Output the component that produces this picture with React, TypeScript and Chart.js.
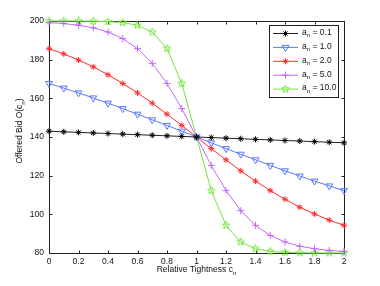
import React, { useEffect, useRef } from 'react';
import { Chart, registerables } from 'chart.js';
Chart.register(...registerables);

const tightness = [0, 0.1, 0.2, 0.3, 0.4, 0.5, 0.6, 0.7, 0.8, 0.9, 1, 1.1, 1.2, 1.3, 1.4, 1.5, 1.6, 1.7, 1.8, 1.9, 2];
const bidA01 = [143.0, 142.7, 142.4, 142.1, 141.8, 141.5, 141.2, 140.9, 140.6, 140.3, 140.0, 139.7, 139.4, 139.1, 138.8, 138.5, 138.2, 137.9, 137.6, 137.3, 137.0];
const bidA1 = [167.7, 165.3, 162.8, 160.2, 157.5, 154.7, 151.8, 148.9, 146.0, 143.0, 140.0, 137.0, 134.0, 131.1, 128.2, 125.3, 122.5, 119.8, 117.2, 114.7, 112.3];
const bidA2 = [185.7, 183.0, 179.8, 176.3, 172.2, 167.7, 162.8, 157.5, 151.8, 146.0, 140.0, 134.0, 128.2, 122.5, 117.2, 112.3, 107.8, 103.7, 100.2, 97.0, 94.3];
const bidA5 = [199.2, 198.7, 197.8, 196.5, 194.3, 190.9, 185.7, 178.1, 167.7, 154.7, 140.0, 125.3, 112.3, 101.9, 94.3, 89.1, 85.7, 83.5, 82.2, 81.3, 80.8];
const bidA10 = [200.0, 200.0, 200.0, 199.9, 199.7, 199.2, 197.8, 194.3, 185.7, 167.7, 140.0, 112.3, 94.3, 85.7, 82.2, 80.8, 80.3, 80.1, 80.0, 80.0, 80.0];
const legendValues = ['0.1', '1.0', '2.0', '5.0', '10.0'];
const xTitle = 'Relative Tightness c';
const yTitle = 'Offered Bid O(c';

const COLORS = ['#222222', '#5a78ff', '#ff2a2a', '#c466ff', '#72e63c'];
const MARKERS = ['star', 'triangleDown', 'star', 'cross', 'pentagram'];
const FONT = '"Liberation Sans", Arial, sans-serif';

function makePentagram(color: string, r: number) {
  const size = Math.ceil(r * 2 + 3);
  const c = document.createElement('canvas');
  c.width = size;
  c.height = size;
  const g = c.getContext('2d')!;
  drawPentagramPath(g, size / 2, size / 2, r);
  g.strokeStyle = color;
  g.lineWidth = 1;
  g.stroke();
  return c;
}

function drawPentagramPath(g: CanvasRenderingContext2D, cx: number, cy: number, r: number) {
  const inner = r * 0.42;
  g.beginPath();
  for (let i = 0; i < 10; i++) {
    const ang = -Math.PI / 2 + (i * Math.PI) / 5;
    const rr = i % 2 === 0 ? r : inner;
    const px = cx + rr * Math.cos(ang);
    const py = cy + rr * Math.sin(ang);
    if (i === 0) g.moveTo(px, py);
    else g.lineTo(px, py);
  }
  g.closePath();
}

function drawMarker(g: CanvasRenderingContext2D, kind: string, x: number, y: number, color: string) {
  g.save();
  g.strokeStyle = color;
  g.lineWidth = 1;
  if (kind === 'star') {
    const r = 3;
    g.beginPath();
    g.moveTo(x - r, y); g.lineTo(x + r, y);
    g.moveTo(x, y - r); g.lineTo(x, y + r);
    const d = r * 0.7071;
    g.moveTo(x - d, y - d); g.lineTo(x + d, y + d);
    g.moveTo(x - d, y + d); g.lineTo(x + d, y - d);
    g.stroke();
  } else if (kind === 'triangleDown') {
    const r = 4;
    g.beginPath();
    g.moveTo(x - r * 0.866, y - r * 0.5);
    g.lineTo(x + r * 0.866, y - r * 0.5);
    g.lineTo(x, y + r);
    g.closePath();
    g.stroke();
  } else if (kind === 'cross') {
    const r = 3.5;
    g.beginPath();
    g.moveTo(x - r, y); g.lineTo(x + r, y);
    g.moveTo(x, y - r); g.lineTo(x, y + r);
    g.stroke();
  } else {
    drawPentagramPath(g, x, y, 4);
    g.stroke();
  }
  g.restore();
}

function drawSubText(g: CanvasRenderingContext2D, main: string, sub: string, tail: string, x: number, y: number, size: number, align: 'left' | 'center') {
  g.font = `${size}px ${FONT}`;
  const w1 = g.measureText(main).width;
  g.font = `${size * 0.72}px ${FONT}`;
  const w2 = g.measureText(sub).width;
  g.font = `${size}px ${FONT}`;
  const w3 = g.measureText(tail).width;
  const total = w1 + w2 + w3;
  let sx = align === 'center' ? x - total / 2 : x;
  g.textAlign = 'left';
  g.textBaseline = 'middle';
  g.fillText(main, sx, y);
  g.font = `${size * 0.72}px ${FONT}`;
  g.fillText(sub, sx + w1, y + size * 0.38);
  g.font = `${size}px ${FONT}`;
  g.fillText(tail, sx + w1 + w2, y);
}

const decor = {
  id: 'decor',
  beforeDatasetsDraw(chart: any) {
    const { ctx, chartArea: a, scales } = chart;
    ctx.save();
    ctx.strokeStyle = '#222';
    ctx.lineWidth = 1;
    const L = Math.round(a.left) + 0.5;
    const R = Math.round(a.right) + 0.5;
    const T = Math.round(a.top) + 0.5;
    const B = Math.round(a.bottom) + 0.5;
    ctx.strokeRect(L, T, R - L, B - T);
    ctx.beginPath();
    scales.x.ticks.forEach((t: any) => {
      const px = Math.round(scales.x.getPixelForValue(t.value)) + 0.5;
      ctx.moveTo(px, B); ctx.lineTo(px, B - 3);
      ctx.moveTo(px, T); ctx.lineTo(px, T + 3);
    });
    scales.y.ticks.forEach((t: any) => {
      const py = Math.round(scales.y.getPixelForValue(t.value)) + 0.5;
      ctx.moveTo(L, py); ctx.lineTo(L + 3, py);
      ctx.moveTo(R, py); ctx.lineTo(R - 3, py);
    });
    ctx.stroke();
    ctx.restore();
  },
  afterDraw(chart: any) {
    const { ctx, chartArea: a } = chart;
    ctx.save();
    ctx.fillStyle = '#111';
    drawSubText(ctx, xTitle, 'n', '', (a.left + a.right) / 2, 270, 8.5, 'center');
    ctx.save();
    ctx.translate(20, 131);
    ctx.rotate(-Math.PI / 2);
    drawSubText(ctx, yTitle, 'n', ')', 0, 0, 8.5, 'center');
    ctx.restore();
    const bx = 269.5, by = 25.5, bw = 69, bh = 72;
    ctx.fillStyle = '#fff';
    ctx.fillRect(bx, by, bw, bh);
    ctx.strokeStyle = '#222';
    ctx.lineWidth = 1;
    ctx.strokeRect(bx, by, bw, bh);
    legendValues.forEach((v, i) => {
      const y = 33.5 + i * 13.9;
      ctx.strokeStyle = COLORS[i];
      ctx.beginPath();
      ctx.moveTo(273, y);
      ctx.lineTo(298, y);
      ctx.stroke();
      drawMarker(ctx, MARKERS[i], 285.5, y, i === 0 ? '#000' : COLORS[i]);
      ctx.fillStyle = '#111';
      drawSubText(ctx, 'a', 'n', ' = ' + v, 302, y - 1, 8.5, 'left');
    });
    ctx.restore();
  },
};

export default function App() {
  const ref = useRef<HTMLCanvasElement | null>(null);
  useEffect(() => {
    const series = [bidA01, bidA1, bidA2, bidA5, bidA10];
    const pent = makePentagram(COLORS[4], 4);
    const datasets = series.map((vals, i) => {
      const kind = MARKERS[i];
      let pointStyle: any = 'star';
      let rotation = 0;
      let radius = 3;
      if (kind === 'triangleDown') { pointStyle = 'triangle'; rotation = 180; radius = 4; }
      else if (kind === 'cross') { pointStyle = 'cross'; radius = 3.5; }
      else if (kind === 'pentagram') { pointStyle = pent; radius = 4; }
      return {
        label: 'a_n = ' + legendValues[i],
        data: tightness.map((x, j) => ({ x, y: vals[j] })),
        borderColor: COLORS[i],
        borderWidth: 1,
        pointStyle,
        pointRotation: rotation,
        pointRadius: radius,
        pointBorderColor: i === 0 ? '#000' : COLORS[i],
        pointBackgroundColor: 'rgba(0,0,0,0)',
        pointBorderWidth: 1,
        tension: 0,
        fill: false,
        clip: false as any,
      };
    });
    const chart = new Chart(ref.current!, {
      type: 'line',
      data: { datasets },
      options: {
        responsive: false,
        animation: false,
        events: [],
        layout: { padding: { left: 0, top: 21, right: 36, bottom: 0 } },
        plugins: { legend: { display: false }, tooltip: { enabled: false } },
        scales: {
          x: {
            type: 'linear',
            min: 0,
            max: 2,
            afterFit: (s: any) => { s.height = 33; },
            grid: { display: false, drawTicks: false },
            border: { display: false },
            ticks: {
              stepSize: 0.2,
              padding: 4,
              color: '#111',
              font: { family: FONT, size: 8.5 },
              maxRotation: 0,
              autoSkip: false,
              callback: (v: any) => {
                const r = Math.round(Number(v) * 10) / 10;
                return Number.isInteger(r) ? String(r) : r.toFixed(1);
              },
            },
          },
          y: {
            min: 80,
            max: 200,
            afterFit: (s: any) => { s.width = 49; },
            grid: { display: false, drawTicks: false },
            border: { display: false },
            ticks: {
              stepSize: 20,
              padding: 5,
              color: '#111',
              font: { family: FONT, size: 8.5 },
            },
          },
        },
      },
      plugins: [decor],
    } as any);
    return () => chart.destroy();
  }, []);
  return (
    <div style={{ position: 'absolute', left: 0, top: 0, width: 380, height: 286, background: '#fff' }}>
      <canvas ref={ref} width={380} height={286} style={{ display: 'block' }} />
    </div>
  );
}
